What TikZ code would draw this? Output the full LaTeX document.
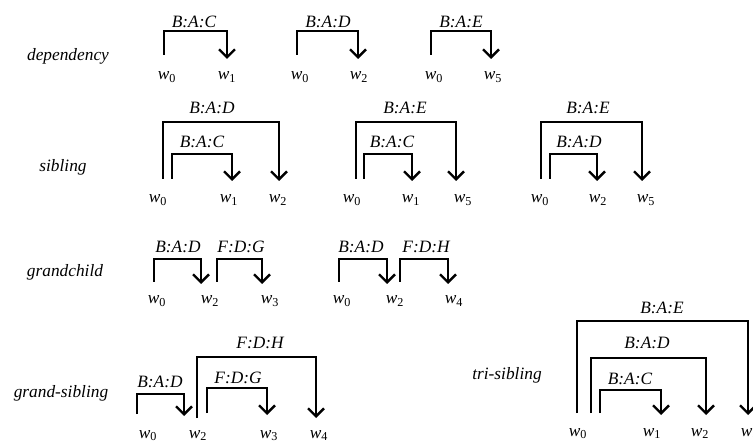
\documentclass[tikz,border=0pt]{standalone}
\usepackage{fontspec}
\setmainfont{Liberation Serif}
\usetikzlibrary{arrows.meta}
\newcommand{\ww}[1]{\textit{w}\textsubscript{#1}}
\begin{document}
\begin{tikzpicture}[x=0.75pt,y=-0.75pt,
  br/.style={line width=1.8pt,-{Straight Barb[length=6pt,width=12pt]}},
  lab/.style={font=\fontsize{13}{15}\selectfont\itshape, inner sep=0pt},
  wl/.style={font=\fontsize{13}{15}\selectfont, inner sep=0pt, anchor=base},
  rowlab/.style={font=\fontsize{13}{15}\selectfont\itshape, inner sep=0pt}]
\useasboundingbox (0,0) rectangle (753,441);
% row labels
\node[rowlab] (rdep) at (68,56) {dependency};
\node[rowlab] (rsib) at (63,167) {sibling};
\node[rowlab] (rgc) at (65,272) {grandchild};
\node[rowlab] (rgs) at (61,393) {grand-sibling};
\node[rowlab] (rts) at (507,375) {tri-sibling};
% ---------------- dependency
\node[lab] (d1) at (194,22) {B:A:C};
\draw[br] (164,55) |- (227,31) -- (227,59);
\node[wl] (d1a) at (167,80) {\ww0};
\node[wl] (d1b) at (227,80) {\ww1};
\node[lab] (d2) at (328,22) {B:A:D};
\draw[br] (297,55) |- (358,31) -- (358,59);
\node[wl] (d2a) at (300,80) {\ww0};
\node[wl] (d2b) at (359,80) {\ww2};
\node[lab] (d3) at (461,22) {B:A:E};
\draw[br] (431,55) |- (491,31) -- (491,59);
\node[wl] (d3a) at (434,80) {\ww0};
\node[wl] (d3b) at (493,80) {\ww5};
% ---------------- sibling
\node[lab] (s1o) at (212,108) {B:A:D};
\node[lab] (s1i) at (202,142) {B:A:C};
\draw[br] (163,179) |- (279,122) -- (279,181);
\draw[br] (172,179) |- (232,154) -- (232,181);
\node[wl] (s1a) at (158,203) {\ww0};
\node[wl] (s1b) at (229,203) {\ww1};
\node[wl] (s1c) at (278,203) {\ww2};
\node[lab] (s2o) at (405,108) {B:A:E};
\node[lab] (s2i) at (392,142) {B:A:C};
\draw[br] (356,179) |- (456,122) -- (456,181);
\draw[br] (364,179) |- (412,154) -- (412,181);
\node[wl] (s2a) at (352,203) {\ww0};
\node[wl] (s2b) at (411,203) {\ww1};
\node[wl] (s2c) at (463,203) {\ww5};
\node[lab] (s3o) at (588,108) {B:A:E};
\node[lab] (s3i) at (579,142) {B:A:D};
\draw[br] (541,179) |- (642,122) -- (642,181);
\draw[br] (550,179) |- (597,154) -- (597,181);
\node[wl] (s3a) at (540,203) {\ww0};
\node[wl] (s3b) at (598,203) {\ww2};
\node[wl] (s3c) at (646,203) {\ww5};
% ---------------- grandchild
\node[lab] (g1a) at (178,247) {B:A:D};
\node[lab] (g1b) at (241,247) {F:D:G};
\draw[br] (154,282) |- (201,259) -- (201,284);
\draw[br] (217,282) |- (262,259) -- (262,284);
\node[wl] (g1w0) at (157,304) {\ww0};
\node[wl] (g1w2) at (210,304) {\ww2};
\node[wl] (g1w3) at (270,304) {\ww3};
\node[lab] (g2a) at (361,247) {B:A:D};
\node[lab] (g2b) at (426,247) {F:D:H};
\draw[br] (339,282) |- (387,259) -- (387,284);
\draw[br] (400,282) |- (448,259) -- (448,284);
\node[wl] (g2w0) at (342,304) {\ww0};
\node[wl] (g2w2) at (395,304) {\ww2};
\node[wl] (g2w4) at (454,304) {\ww4};
% ---------------- grand-sibling
\node[lab] (gsa) at (160,382) {B:A:D};
\node[lab] (gsb) at (260,343) {F:D:H};
\node[lab] (gsc) at (238,378) {F:D:G};
\draw[br] (137,414) |- (184,394) -- (184,416);
\draw[br] (197,418) |- (316,357) -- (316,418);
\draw[br] (207,413) |- (267,388) -- (267,415);
\node[wl] (gsw0) at (148,438) {\ww0};
\node[wl] (gsw2) at (198,438) {\ww2};
\node[wl] (gsw3) at (269,438) {\ww3};
\node[wl] (gsw4) at (319,438) {\ww4};
% ---------------- tri-sibling
\node[lab] (tsa) at (662,308) {B:A:E};
\node[lab] (tsb) at (647,343) {B:A:D};
\node[lab] (tsc) at (630,379) {B:A:C};
\draw[br] (577,413) |- (748,321) -- (748,415);
\draw[br] (591,413) |- (706,358) -- (706,415);
\draw[br] (600,413) |- (661,390) -- (661,415);
\node[wl] (tsw0) at (578,436) {\ww0};
\node[wl] (tsw1) at (652,436) {\ww1};
\node[wl] (tsw2) at (700,436) {\ww2};
\node[wl] (tsw5) at (750,436) {\ww5};
\end{tikzpicture}
\end{document}
